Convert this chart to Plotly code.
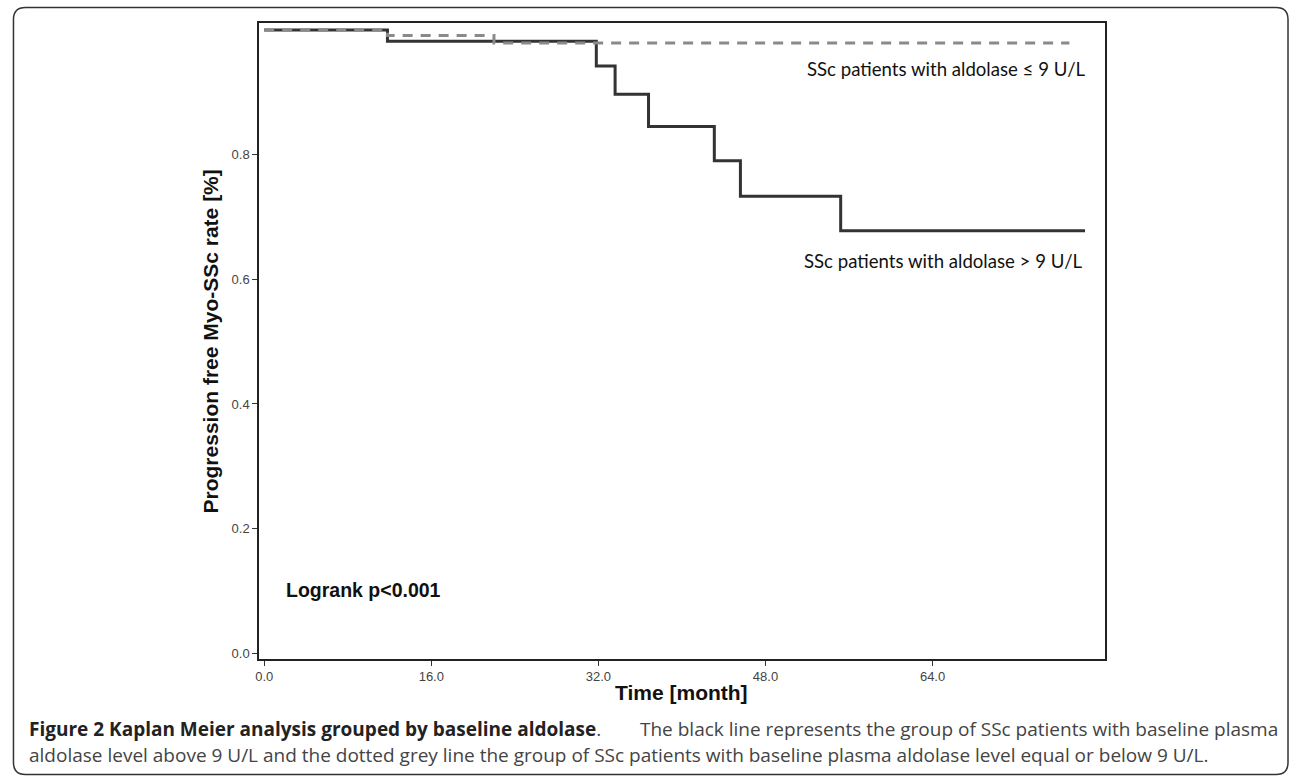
import plotly.graph_objects as go

# ---- data ----
high_months = [0, 11.8, 31.8, 33.6, 36.8, 43.1, 45.6, 55.2, 78.6]
high_surv = [1.0, 0.982, 0.942, 0.897, 0.845, 0.790, 0.733, 0.678, 0.678]
low_months = [0, 11.8, 22.0, 77.1]
low_surv = [1.0, 0.991, 0.979, 0.979]

x_tickvals = [0, 16, 32, 48, 64]
x_ticktext = ["0.0", "16.0", "32.0", "48.0", "64.0"]
y_tickvals = [0, 0.2, 0.4, 0.6, 0.8]
y_ticktext = ["0.0", "0.2", "0.4", "0.6", "0.8"]

label_low = "SSc patients with aldolase \u2264 9 U/L"
label_high = "SSc patients with aldolase > 9 U/L"
logrank = "Logrank p<0.001"
y_title = "Progression free Myo-SSc rate [%]"
x_title = "Time [month]"
cap_bold = "Figure 2 Kaplan Meier analysis grouped by baseline aldolase"
cap_line1 = "The black line represents the group of SSc patients with baseline plasma"
cap_line2 = ("aldolase level above 9 U/L and the dotted grey line the group of SSc patients "
             "with baseline plasma aldolase level equal or below 9 U/L.")

W, H = 1290, 778


def px(x):
    return x / W


def py(y):
    return 1 - y / H


fig = go.Figure()
fig.add_trace(go.Scatter(x=high_months, y=high_surv, mode="lines", line_shape="hv",
                         line=dict(color="#333333", width=3), showlegend=False))
fig.add_trace(go.Scatter(x=low_months, y=low_surv, mode="lines", line_shape="hv",
                         line=dict(color="#8a8a8a", width=3, dash="10px,8px"), showlegend=False))

axis_font = dict(family="Liberation Sans, Arial", size=13, color="#444444")
fig.update_xaxes(domain=[px(255.8), px(1104.3)], range=[-0.5, 80.5],
                 tickvals=x_tickvals, ticktext=x_ticktext, ticks="outside", ticklen=5,
                 tickcolor="#333333", showline=True, mirror=True, linecolor="#222222",
                 linewidth=1.5, showgrid=False, zeroline=False, tickfont=axis_font)
fig.update_yaxes(domain=[py(660.7), py(23)], range=[-0.00912, 1.0112],
                 tickvals=y_tickvals, ticktext=y_ticktext, ticks="outside", ticklen=5,
                 tickcolor="#333333", showline=True, mirror=True, linecolor="#222222",
                 linewidth=1.5, showgrid=False, zeroline=False, tickfont=axis_font)

ann = []
lab_font = dict(family="Lato, Open Sans", size=18.6, color="#111111")
ann.append(dict(text=label_low, x=px(1087), y=py(69), xanchor="right", yanchor="middle",
                font=lab_font))
ann.append(dict(text=label_high, x=px(1084), y=py(262), xanchor="right", yanchor="middle",
                font=lab_font))
ann.append(dict(text="<b>%s</b>" % logrank, x=px(281), y=py(592), xanchor="left",
                yanchor="middle", font=dict(family="Liberation Sans, Arial", size=19.5,
                                            color="#111111")))
title_font = dict(family="Liberation Sans, Arial", size=21, color="#111111")
ann.append(dict(text="<b>%s</b>" % y_title, x=px(207), y=py(342), xanchor="center",
                yanchor="middle", textangle=-90, font=title_font))
ann.append(dict(text="<b>%s</b>" % x_title, x=px(680), y=py(694), xanchor="center",
                yanchor="middle", font=title_font))
cap_font = dict(family="Open Sans", size=19, color="#444444")
ann.append(dict(text="<b>%s</b><span style='color:#444444'>.</span>" % cap_bold,
                x=px(23), y=py(731), xanchor="left", yanchor="middle",
                font=dict(family="Open Sans", size=19, color="#222222")))
ann.append(dict(text=cap_line1, x=px(1280), y=py(731), xanchor="right", yanchor="middle",
                font=cap_font))
ann.append(dict(text=cap_line2, x=px(23), y=py(757), xanchor="left", yanchor="middle",
                font=cap_font))
for a in ann:
    a.update(xref="paper", yref="paper", showarrow=False)

# outer rounded frame
r = 12
x0, x1, y0, y1 = 9.5, 1288, 7.5, 776.5
path = (f"M {px(x0)},{py(y0 + r)} Q {px(x0)},{py(y0)} {px(x0 + r)},{py(y0)} "
        f"L {px(x1 - r)},{py(y0)} Q {px(x1)},{py(y0)} {px(x1)},{py(y0 + r)} "
        f"L {px(x1)},{py(y1 - r)} Q {px(x1)},{py(y1)} {px(x1 - r)},{py(y1)} "
        f"L {px(x0 + r)},{py(y1)} Q {px(x0)},{py(y1)} {px(x0)},{py(y1 - r)} Z")
shapes = [dict(type="path", path=path, xref="paper", yref="paper",
               line=dict(color="#333333", width=1.5))]

fig.update_layout(width=W, height=H, margin=dict(l=0, r=0, t=0, b=0),
                  paper_bgcolor="white", plot_bgcolor="white",
                  annotations=ann, shapes=shapes, showlegend=False)

fig.write_html("out.html", config={"displayModeBar": False},
               post_script="document.body.style.margin='0';document.body.style.overflow='hidden';")
